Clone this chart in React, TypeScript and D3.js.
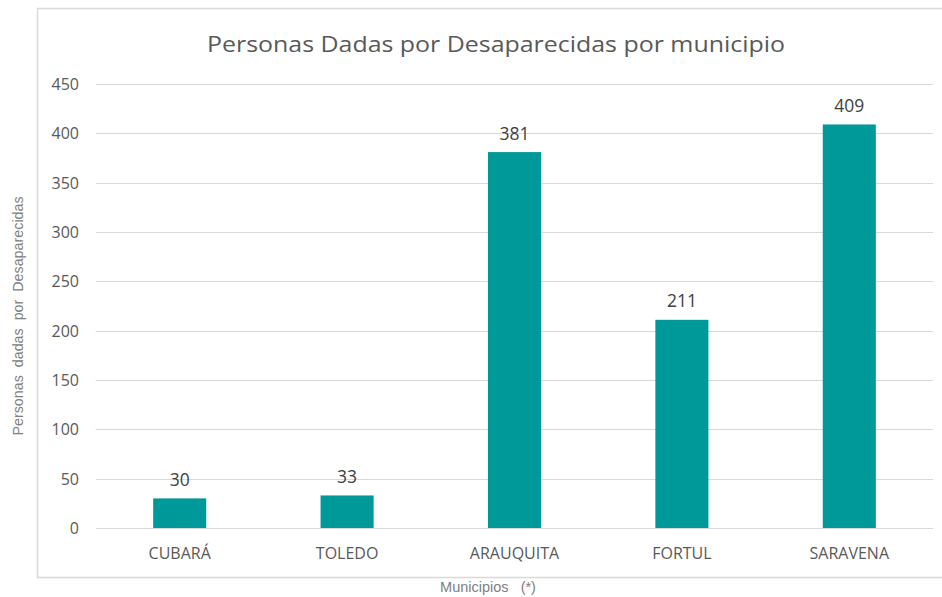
import React from "react";
import * as d3 from "d3";

const categories = ["CUBARÁ", "TOLEDO", "ARAUQUITA", "FORTUL", "SARAVENA"];
const values = [30, 33, 381, 211, 409];
const yTicks = [0, 50, 100, 150, 200, 250, 300, 350, 400, 450];

const W = 942;
const H = 597;
const plot = { left: 96, right: 933, top: 84, bottom: 528 };

export default function App() {
  const x = d3
    .scaleBand<string>()
    .domain(categories)
    .range([plot.left, plot.right])
    .paddingInner(0.683)
    .paddingOuter(0.3415);
  const y = d3.scaleLinear().domain([0, 450]).range([plot.bottom, plot.top]);
  const font = "'Open Sans', Lato, sans-serif";
  return (
    <svg width={W} height={H} style={{ position: "absolute", left: 0, top: 0, background: "#fff" }}>
      <rect x={0} y={0} width={W} height={H} fill="#fff" />
      {/* chart border */}
      <path d={`M${W + 5},8.5 H37.5 V577.5 H${W + 5}`} fill="none" stroke="#d9d9d9" strokeWidth={1.5} />
      <text x={496} y={52} textAnchor="middle" fontFamily={font} fontSize={22} fill="#595959" textLength={578} lengthAdjust="spacingAndGlyphs">
        Personas Dadas por Desaparecidas por municipio
      </text>
      {yTicks.map((t) => (
        <g key={t}>
          <line x1={plot.left} x2={plot.right} y1={Math.round(y(t)) + 0.5} y2={Math.round(y(t)) + 0.5} stroke="#d9d9d9" strokeWidth={1} />
          <text x={79} y={y(t) + 6} textAnchor="end" fontFamily={font} fontSize={16} fill="#595959">
            {t}
          </text>
        </g>
      ))}
      {categories.map((c, i) => (
        <g key={c}>
          <rect x={x(c)} y={y(values[i])} width={x.bandwidth()} height={y(0) - y(values[i])} fill="#009999" />
          <text x={(x(c) as number) + x.bandwidth() / 2} y={y(values[i]) - 12.5} textAnchor="middle" fontFamily={font} fontSize={17.5} fill="#404040">
            {values[i]}
          </text>
          <text x={(x(c) as number) + x.bandwidth() / 2} y={559} textAnchor="middle" fontFamily={font} fontSize={16} fill="#595959">
            {c}
          </text>
        </g>
      ))}
      <text
        transform={`translate(23,${316}) rotate(-90)`}
        textAnchor="middle"
        fontFamily="'Liberation Sans', Arial, sans-serif"
        fontSize={14.3}
        fill="#808080"
        style={{ whiteSpace: "pre" }}
      >
        {"Personas  dadas  por  Desaparecidas"}
      </text>
      <text x={488} y={592} textAnchor="middle" fontFamily="'Liberation Sans', Arial, sans-serif" fontSize={14.5} fill="#808080" style={{ whiteSpace: "pre" }}>
        {"Municipios   (*)"}
      </text>
    </svg>
  );
}
